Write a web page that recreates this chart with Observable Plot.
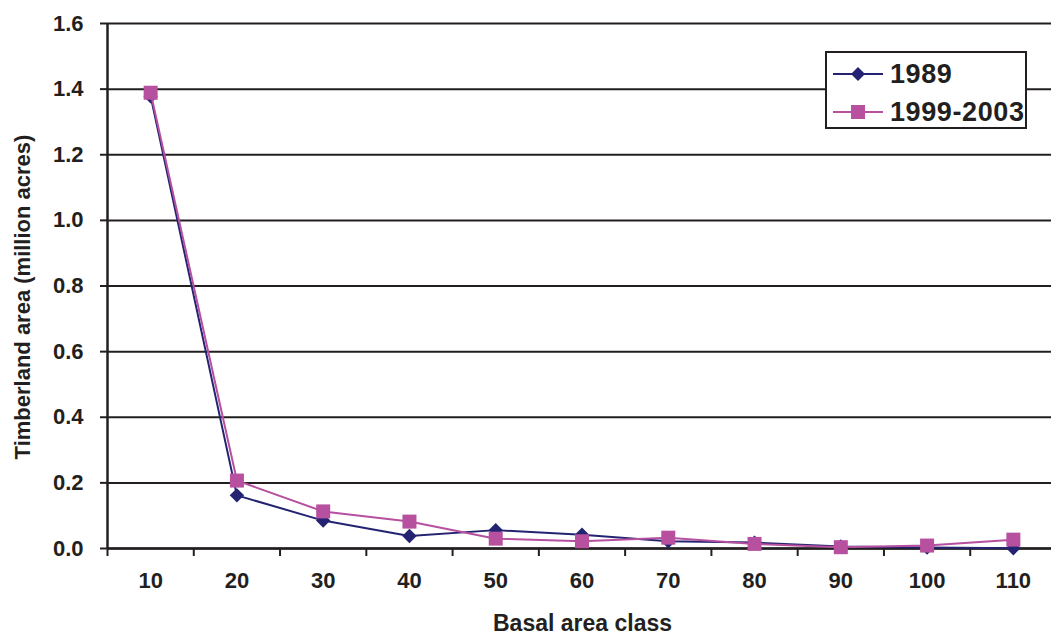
<!DOCTYPE html>
<html>
<head>
<meta charset="utf-8">
<script src="https://cdn.jsdelivr.net/npm/d3@7"></script>
<script src="https://cdn.jsdelivr.net/npm/@observablehq/plot@0.6"></script>
<style>
  html, body { margin: 0; padding: 0; background: #fff; }
  #wrap { position: relative; width: 1051px; height: 635px; overflow: hidden; font-family: "Liberation Sans", Arial, sans-serif; }
  #legend { position: absolute; left: 825px; top: 51px; width: 198px; height: 74px; border: 2px solid #231f20; background: #fff; }
  .item { position: absolute; left: 6px; height: 30px; display: flex; align-items: center; font-weight: bold; font-size: 27px; letter-spacing: 0.6px; color: #231f20; }
  .item svg { margin-right: 7px; }
</style>
</head>
<body>
<div id="wrap"></div>
<script>
const categories = [10, 20, 30, 40, 50, 60, 70, 80, 90, 100, 110];
const boundaries = [5, 15, 25, 35, 45, 55, 65, 75, 85, 95, 105, 115];
const series1989 = [1.378, 0.162, 0.085, 0.038, 0.056, 0.042, 0.022, 0.018, 0.006, 0.003, 0.001];
const series9903 = [1.389, 0.207, 0.113, 0.082, 0.030, 0.022, 0.033, 0.014, 0.004, 0.009, 0.027];
const yTicks = [0, 0.2, 0.4, 0.6, 0.8, 1.0, 1.2, 1.4, 1.6];
const seriesNames = ["1989", "1999-2003"];
const colors = ["#232372", "#b6509f"];

const d1989 = categories.map((c, i) => ({cls: c, v: series1989[i]}));
const d9903 = categories.map((c, i) => ({cls: c, v: series9903[i]}));

const ink = "#231f20";
const chart = Plot.plot({
  width: 1051,
  height: 635,
  marginLeft: 107,
  marginRight: 0,
  marginTop: 23,
  marginBottom: 87,
  style: {fontFamily: "'Liberation Sans', Arial, sans-serif", fontWeight: "bold", color: ink, background: "#fff"},
  x: {type: "linear", domain: [5, 115], range: [107, 1056]},
  y: {domain: [0, 1.6]},
  marks: [
    Plot.ruleY(yTicks, {stroke: ink, strokeWidth: 2}),
    Plot.axisY({ticks: yTicks, tickSize: 7, tickPadding: 17, tickFormat: d => d.toFixed(1), fontSize: 22, letterSpacing: "1.5px", stroke: ink, strokeWidth: 2, label: null}),
    Plot.axisX({ticks: boundaries, tickSize: 8, tickFormat: () => "", stroke: ink, strokeWidth: 2, label: null}),
    Plot.axisX({ticks: categories, tickSize: 0, tickPadding: 24, fontSize: 22, letterSpacing: "1.5px", label: null}),
    Plot.ruleX([5], {stroke: ink, strokeWidth: 2.5}),
    Plot.ruleY([0], {stroke: ink, strokeWidth: 2.5}),
    Plot.line(d1989, {x: "cls", y: "v", stroke: colors[0], strokeWidth: 2}),
    Plot.dot(d1989, {x: "cls", y: "v", symbol: "diamond2", r: 6.5, fill: colors[0], stroke: "none"}),
    Plot.line(d9903, {x: "cls", y: "v", stroke: colors[1], strokeWidth: 2}),
    Plot.dot(d9903, {x: "cls", y: "v", symbol: "square", r: 7.9, fill: colors[1], stroke: "none"}),
    Plot.text(["Basal area class"], {frameAnchor: "bottom", dx: 3, dy: 82, fontSize: 23, letterSpacing: "1.4px", fontWeight: "bold", fill: ink}),
    Plot.text(["Timberland area (million acres)"], {frameAnchor: "left", textAnchor: "middle", dx: -85, dy: 11, rotate: -90, fontSize: 22, letterSpacing: "0.8px", fontWeight: "bold", fill: ink})
  ]
});
const wrap = document.getElementById("wrap");
wrap.appendChild(chart);

const legend = document.createElement("div");
legend.id = "legend";
const syms = [
  '<polygon points="25,3 32,10 25,17 18,10" fill="' + colors[0] + '"/>',
  '<rect x="18" y="3" width="14" height="14" fill="' + colors[1] + '"/>'
];
seriesNames.forEach((name, i) => {
  const item = document.createElement("div");
  item.className = "item";
  item.style.top = (i === 0 ? 6 : 44) + "px";
  item.innerHTML = '<svg width="50" height="20"><line x1="0" y1="10" x2="50" y2="10" stroke="' + colors[i] + '" stroke-width="2"/>' + syms[i] + '</svg><span>' + name + '</span>';
  legend.appendChild(item);
});
wrap.appendChild(legend);
</script>
</body>
</html>
